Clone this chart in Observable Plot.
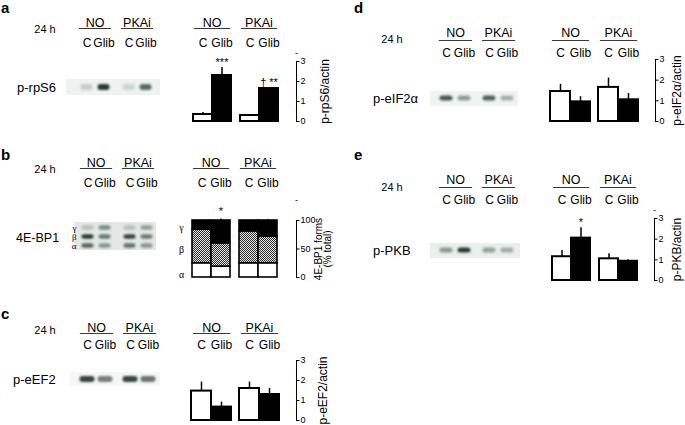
<!DOCTYPE html>
<html><head><meta charset="utf-8">
<script src="https://cdn.jsdelivr.net/npm/d3@7"></script>
<script src="https://cdn.jsdelivr.net/npm/@observablehq/plot@0.6"></script>
<style>
body{margin:0;background:#fff;}
#fig{position:relative;width:685px;height:425px;overflow:hidden;font-family:"Liberation Sans",Arial,sans-serif;color:#000;background:#fff;}
.t{position:absolute;white-space:nowrap;line-height:1;}
.letter{font-weight:bold;font-size:15px;}
.hr{font-size:11px;transform:translate(-50%,-50%);}
.prot{font-size:13px;transform:translateY(-50%);}
.strip{position:absolute;}
svg{overflow:visible;}
</style></head><body><div id="fig"></div>
<script>
// ---------- data ----------
const groups = ["NO", "PKAi"];
const conds = ["C", "Glib"];
// bar values in lane order: NO C, NO Glib, PKAi C, PKAi Glib
const rps6Mean = [0.35, 2.3, 0.3, 1.65];
const rps6Err  = [0.1, 0.4, 0, 0.05];
const rps6Sig  = ["", "***", "", "† **"];
const eef2Mean = [1.47, 0.67, 1.6, 1.3];
const eef2Err  = [0.45, 0.25, 0.32, 0.3];
const eif2Mean = [1.45, 0.95, 1.65, 1.05];
const eif2Err  = [0.35, 0.25, 0.45, 0.3];
const pkbMean  = [1.15, 2.05, 1.05, 0.93];
const pkbErr   = [0.3, 0.5, 0.25, 0.07];
const pkbSig   = ["", "*", "", ""];
// 4E-BP1 forms (% of total)
const bpAlpha  = [25, 19, 25, 25];
const bpBeta   = [59, 41, 56, 47];
const bpGamma  = [16, 40, 19, 28];
const bpTopErr = [1, 3, 0, 2];
const bpAlphaErr = [0, 2, 0, 2];
const bpSig    = ["", "*", "", ""];
const bpLabels = ["γ", "β", "α"];
const bpLabelPos = [88, 48, 4];
// western blot band intensities (0–1)
const blotRps6 = [0.2, 0.95, 0.15, 0.7];
const blotBpGamma = [0.22, 0.5, 0.22, 0.4];
const blotBpBeta  = [0.95, 0.6, 0.9, 0.6];
const blotBpAlpha = [0.7, 0.45, 0.65, 0.45];
const blotEef2 = [0.9, 0.6, 0.9, 0.65];
const blotEif2 = [0.8, 0.45, 0.75, 0.35];
const blotPkb  = [0.45, 0.95, 0.4, 0.35];
const ticks3 = [0, 1, 2, 3];
const ticks100 = [0, 50, 100];

// ---------- helpers ----------
const FONT = '"Liberation Sans", Arial, sans-serif';
const BAND = "#1c3322";
const fig = document.getElementById("fig");
const lanes = groups.flatMap(g => conds.map(c => ({group: g, cond: c})));
const barRows = (mean, err, sig = []) => lanes.map((l, i) => ({...l, mean: mean[i], err: err[i], sig: sig[i] || ""}));
const blotRows = (vals, row = "band") => lanes.map((l, i) => ({...l, row, v: vals[i]}));

function put(el, left, top) {
  el.style.position = "absolute";
  el.style.left = left + "px";
  el.style.top = top + "px";
  fig.appendChild(el);
}
function txt(text, cls, left, top) {
  const d = document.createElement("div");
  d.className = "t " + cls;
  d.textContent = text;
  d.style.left = left + "px";
  d.style.top = top + "px";
  fig.appendChild(d);
  return d;
}
function strip(left, top, w, h, bg) {
  const d = document.createElement("div");
  d.className = "strip";
  Object.assign(d.style, {left: left + "px", top: top + "px", width: w + "px", height: h + "px", background: bg});
  fig.appendChild(d);
}
function headerMarks(c) {
  return [
    Plot.axisFx({anchor: "top", tickSize: 0, tickPadding: 0, lineAnchor: "middle", dy: c.gy - c.top, label: null, fontSize: 12.5}),
    Plot.frame({anchor: "top", dy: c.ly - c.top, insetLeft: 2, insetRight: 2, stroke: "#3a3a3a", strokeWidth: 1.2}),
    Plot.axisX({anchor: "top", tickSize: 0, tickPadding: 0, lineAnchor: "middle", dy: c.cy - c.top, label: null, fontSize: 12})
  ];
}
function barChart(c) {
  const ml = 14, mb = 6, mt = c.top - c.svgTop, mr = c.svgRight - c.x2;
  const width = c.x2 - c.x1 + ml + mr;
  const height = mt + (c.bottom - c.top) + mb;
  const axDx = c.axisX - c.x2;
  const marks = [];
  if (c.stack) marks.push(...c.stack);
  else {
    marks.push(Plot.barY(c.data, {fx: "group", x: "cond", y: "mean", fill: d => d.cond === "C" ? "white" : "black", stroke: "black", strokeWidth: 2}));
    marks.push(Plot.ruleX(c.data.filter(d => d.err > 0), {fx: "group", x: "cond", y1: "mean", y2: d => d.mean + d.err, stroke: "black", strokeWidth: 1.5}));
    marks.push(Plot.text(c.data.filter(d => d.sig), {fx: "group", x: "cond", y: d => d.mean + d.err, text: "sig", dy: -5, fontSize: 11}));
  }
  marks.push(...headerMarks(c));
  marks.push(Plot.axisY({anchor: "right", dx: axDx, ticks: c.ticks, tickFormat: d => String(d), tickSize: 2.5, tickPadding: 1.5, fontSize: 9, label: null}));
  marks.push(Plot.frame({anchor: "right", dx: axDx, facetAnchor: "right", stroke: "black", strokeWidth: 1}));
  marks.push(Plot.text([c.label], {frameAnchor: "right", dx: c.labelX - c.x2, rotate: -90, textAnchor: "middle", lineAnchor: "middle", facetAnchor: "right", fontSize: c.labelSize ?? 12, lineHeight: c.labelLH ?? 1.1}));
  if (c.dashY != null) marks.push(Plot.text(["-"], {frameAnchor: "top-right", dx: axDx, dy: c.dashY - c.top, facetAnchor: "right", fontSize: 9, textAnchor: "middle", lineAnchor: "middle"}));
  const p = Plot.plot({
    width, height, marginLeft: ml, marginRight: mr, marginTop: mt, marginBottom: mb,
    style: {fontFamily: FONT, fontSize: "11px", background: "transparent", overflow: "visible", color: "black"},
    fx: {domain: groups, paddingInner: 0.16, paddingOuter: 0},
    x: {domain: conds, padding: 0},
    y: {domain: c.domain},
    color: {type: "identity"},
    marks
  });
  put(p, c.x1 - ml, c.svgTop);
  return p;
}
function blotChart(c) {
  const ml = c.ml ?? 6, mr = 6, mb = 4, mt = c.top - c.svgTop;
  const width = c.x2 - c.x1 + ml + mr;
  const height = mt + (c.bottom - c.top) + mb;
  const marks = [
    Plot.cell(c.data, {fx: "group", x: "cond", y: "row", fill: BAND, fillOpacity: "v", insetLeft: c.insetX ?? 2.5, insetRight: c.insetX ?? 2.5, insetTop: c.insetY, insetBottom: c.insetY, rx: 3}),
    ...headerMarks(c)
  ];
  if (c.rowAxis) marks.push(Plot.axisY({anchor: "left", tickSize: 0, tickPadding: 2, fontFamily: '"Liberation Serif", serif', fontSize: 9, label: null}));
  const p = Plot.plot({
    width, height, marginLeft: ml, marginRight: mr, marginTop: mt, marginBottom: mb,
    style: {fontFamily: FONT, fontSize: "11px", background: "transparent", overflow: "visible", color: "black"},
    fx: {domain: groups, paddingInner: 0.16, paddingOuter: 0},
    x: {domain: conds, padding: 0},
    y: c.rowAxis ? {domain: c.rows, padding: 0} : {domain: c.rows, padding: 0, axis: null},
    opacity: {domain: [0, 1], range: [0, 1]},
    marks
  });
  const s = d3.select(p);
  s.insert("defs", ":first-child").append("filter").attr("id", c.id)
    .attr("x", "-30%").attr("y", "-80%").attr("width", "160%").attr("height", "260%")
    .append("feGaussianBlur").attr("stdDeviation", 1.0);
  s.selectAll('g[aria-label="cell"]').attr("filter", `url(#${c.id})`);
  put(p, c.x1 - ml, c.svgTop);
  return p;
}

// ---------- blot backgrounds ----------
strip(66, 79, 94, 16, "#eef3f2");
strip(74, 222, 82, 28, "#e3e7e5");
strip(70, 372, 90, 14, "#f5f7f6");
strip(430, 91, 88, 15, "#eff3f1");
strip(430, 243, 90, 15, "#e9efea");

// ---------- panel a ----------
txt("a", "letter", 1, 0);
txt("24 h", "hr", 45, 29);
txt("p-rpS6", "prot", 17, 87);
blotChart({id: "bA", x1: 76, x2: 155, top: 80, bottom: 94, svgTop: 10, gy: 22, ly: 28, cy: 43, rows: ["band"], data: blotRows(blotRps6), insetY: 4});
barChart({x1: 191, x2: 279, top: 61, bottom: 121, svgTop: 10, svgRight: 340, gy: 22, ly: 28, cy: 43, axisX: 297, labelX: 325, dashY: 53,
  domain: [0, 3], ticks: ticks3, label: "p-rpS6/actin", data: barRows(rps6Mean, rps6Err, rps6Sig)});

// ---------- panel b ----------
txt("b", "letter", 1, 147);
txt("24 h", "hr", 45, 169);
txt("4E-BP1", "prot", 16, 238).style.fontSize = "12.5px";
blotChart({id: "bB", x1: 77, x2: 156, top: 222, bottom: 250, svgTop: 150, gy: 162, ly: 168, cy: 183, rows: ["γ", "β", "α"], rowAxis: true, ml: 30,
  data: [...blotRows(blotBpGamma, "γ"), ...blotRows(blotBpBeta, "β"), ...blotRows(blotBpAlpha, "α")], insetY: 2.3});
const bpFill = {"α": "white", "β": "url(#chk)", "γ": "black"};
const bpData = lanes.flatMap((l, i) => [
  {...l, form: "α", pct: bpAlpha[i]},
  {...l, form: "β", pct: bpBeta[i]},
  {...l, form: "γ", pct: bpGamma[i]}
]);
const bpErrData = lanes.flatMap((l, i) => [
  {...l, y1: 100, y2: 100 + bpTopErr[i]},
  {...l, y1: bpAlpha[i] - bpAlphaErr[i], y2: bpAlpha[i] + bpAlphaErr[i]}
]).filter(d => d.y2 > d.y1);
const bpSigData = lanes.map((l, i) => ({...l, sig: bpSig[i], y: 100 + bpTopErr[i]})).filter(d => d.sig);
const bpLabelData = bpLabels.map((f, i) => ({form: f, y: bpLabelPos[i]}));
const pB = barChart({x1: 190, x2: 278, top: 220, bottom: 277, svgTop: 150, svgRight: 340, gy: 162, ly: 168, cy: 183, axisX: 297, labelX: 324, dashY: 200,
  domain: [0, 100], ticks: ticks100, label: "4E-BP1 forms\n(% total)", labelSize: 10, labelLH: 0.95,
  stack: [
    Plot.barY(bpData, {fx: "group", x: "cond", y: "pct", fill: d => bpFill[d.form], stroke: "black", strokeWidth: 1.6}),
    Plot.ruleX(bpErrData, {fx: "group", x: "cond", y1: "y1", y2: "y2", stroke: "black", strokeWidth: 1}),
    Plot.text(bpSigData, {fx: "group", x: "cond", y: "y", text: "sig", dy: -7, fontSize: 11}),
    Plot.text(bpLabelData, {y: "y", text: "form", frameAnchor: "left", dx: -10, facetAnchor: "left", textAnchor: "middle", fontFamily: '"Liberation Serif", serif', fontSize: 10})
  ]});
(function () {
  const s = d3.select(pB);
  const pat = s.insert("defs", ":first-child").append("pattern").attr("id", "chk")
    .attr("width", 2).attr("height", 2).attr("patternUnits", "userSpaceOnUse");
  pat.append("rect").attr("width", 2).attr("height", 2).attr("fill", "#e6e6e6");
  pat.append("rect").attr("width", 1).attr("height", 1).attr("fill", "#2e2e2e");
  pat.append("rect").attr("x", 1).attr("y", 1).attr("width", 1).attr("height", 1).attr("fill", "#2e2e2e");
})();

// ---------- panel c ----------
txt("c", "letter", 1, 306);
txt("24 h", "hr", 45, 330);
txt("p-eEF2", "prot", 13, 379);
blotChart({id: "bC", x1: 78, x2: 158, top: 373, bottom: 385, svgTop: 315, gy: 327, ly: 333, cy: 345, rows: ["band"], data: blotRows(blotEef2), insetY: 3, insetX: 1.5});
barChart({x1: 191, x2: 280, top: 360, bottom: 420, svgTop: 315, svgRight: 340, gy: 327, ly: 333, cy: 345, axisX: 297, labelX: 323,
  domain: [0, 3], ticks: ticks3, label: "p-eEF2/actin", data: barRows(eef2Mean, eef2Err)});

// ---------- panel d ----------
txt("d", "letter", 354, 0);
txt("24 h", "hr", 392, 39);
txt("p-eIF2α", "prot", 373, 98);
blotChart({id: "bD", x1: 437, x2: 517, top: 92, bottom: 104, svgTop: 20, gy: 32, ly: 40, cy: 53, rows: ["band"], data: blotRows(blotEif2), insetY: 3.5});
barChart({x1: 550, x2: 639, top: 59, bottom: 121, svgTop: 20, svgRight: 685, gy: 32, ly: 40, cy: 53, axisX: 656, labelX: 677,
  domain: [0, 3], ticks: ticks3, label: "p-eIF2α/actin", data: barRows(eif2Mean, eif2Err)});

// ---------- panel e ----------
txt("e", "letter", 354, 147);
txt("24 h", "hr", 392, 187);
txt("p-PKB", "prot", 373, 250);
blotChart({id: "bE", x1: 437, x2: 517, top: 244, bottom: 256, svgTop: 170, gy: 179, ly: 187, cy: 200, rows: ["band"], data: blotRows(blotPkb), insetY: 3.5});
barChart({x1: 550, x2: 638, top: 218, bottom: 280, svgTop: 170, svgRight: 685, gy: 179, ly: 187, cy: 200, axisX: 655, labelX: 677, dashY: 210,
  domain: [0, 3], ticks: ticks3, label: "p-PKB/actin", data: barRows(pkbMean, pkbErr, pkbSig)});
</script></body></html>
